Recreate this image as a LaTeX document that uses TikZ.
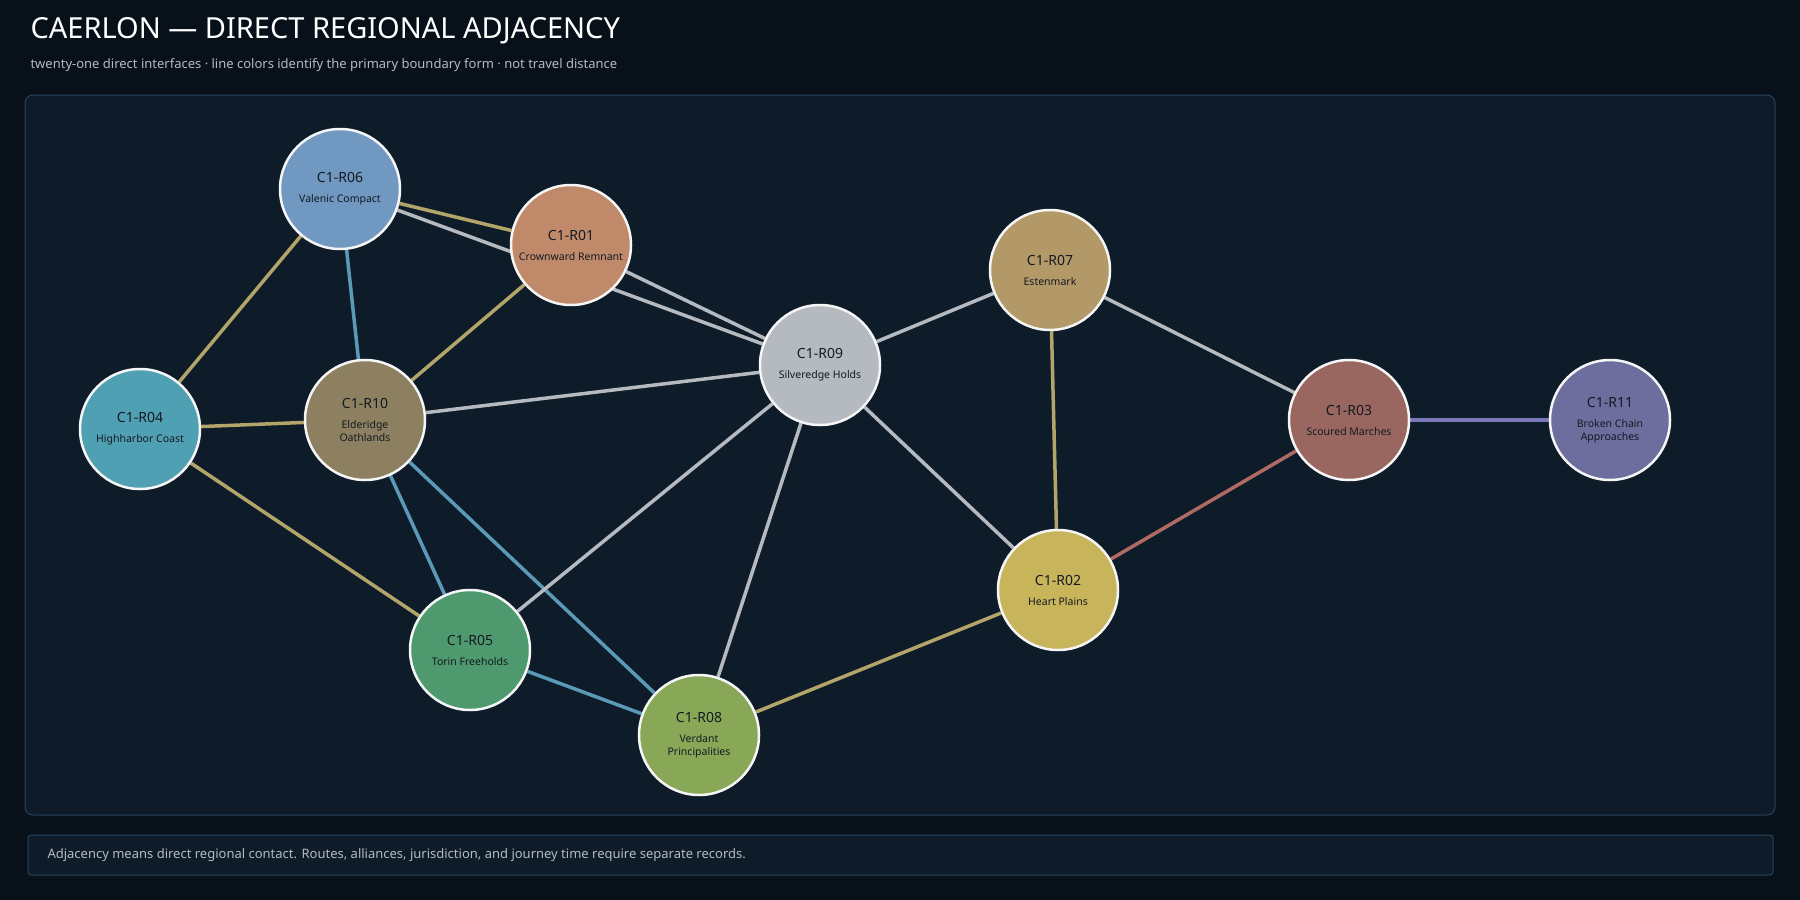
\documentclass[tikz,border=0pt]{standalone}
\usepackage{fontspec}
\setmainfont{Noto Sans}
\usetikzlibrary{backgrounds}
\definecolor{bg}{HTML}{08111A}
\definecolor{panel}{HTML}{0E1C29}
\definecolor{pborder}{HTML}{27425A}
\definecolor{egold}{HTML}{B3A46A}
\definecolor{esil}{HTML}{B4BAC0}
\definecolor{eblue}{HTML}{5A9AB8}
\definecolor{ered}{HTML}{B06A64}
\definecolor{epur}{HTML}{7A78B8}
\definecolor{ink}{HTML}{141A22}
\definecolor{c06}{RGB}{112,152,192}
\definecolor{c01}{RGB}{192,138,106}
\definecolor{c07}{RGB}{179,152,104}
\definecolor{c09}{RGB}{180,186,192}
\definecolor{c04}{RGB}{80,160,180}
\definecolor{c10}{RGB}{140,128,96}
\definecolor{c03}{RGB}{154,102,96}
\definecolor{c11}{RGB}{110,110,158}
\definecolor{c02}{RGB}{200,180,90}
\definecolor{c05}{RGB}{78,154,110}
\definecolor{c08}{RGB}{136,168,88}
\newcommand\hd[1]{\textbf{\fontsize{14}{16}\selectfont #1}\\[7pt]}
\begin{document}
\begin{tikzpicture}[x=1pt,y=-1pt,
  reg/.style={circle,draw=white!92!gray,line width=2.5pt,minimum size=120pt,inner sep=0pt,align=center,text=ink,font=\bfseries\fontsize{10.5}{13}\selectfont},
  e/.style={line width=3.5pt},
  gold/.style={e,draw=egold},sil/.style={e,draw=esil},blu/.style={e,draw=eblue}]
\useasboundingbox (0,0) rectangle (1800,900);
\node[anchor=west,text=white,font=\bfseries\fontsize{29}{32}\selectfont] (title) at (27,31) {CAERLON — DIRECT REGIONAL ADJACENCY};
\node[anchor=west,text=esil,font=\fontsize{13}{15}\selectfont] (sub) at (27,65) {twenty-one direct interfaces · line colors identify the primary boundary form · not travel distance};
\node[anchor=west,text=esil,font=\fontsize{13}{15}\selectfont] (foot) at (44,855) {Adjacency means direct regional contact. Routes, alliances, jurisdiction, and journey time require separate records.};
\node[reg,fill=c06] (r06) at (340,189) {\hd{C1-R06}Valenic Compact};
\node[reg,fill=c01] (r01) at (571,245) {\hd{C1-R01}Crownward Remnant};
\node[reg,fill=c07] (r07) at (1050,270) {\hd{C1-R07}Estenmark};
\node[reg,fill=c09] (r09) at (820,365) {\hd{C1-R09}Silveredge Holds};
\node[reg,fill=c04] (r04) at (140,429) {\hd{C1-R04}Highharbor Coast};
\node[reg,fill=c10] (r10) at (365,420) {\hd{C1-R10}Elderidge\\Oathlands};
\node[reg,fill=c03] (r03) at (1349,420) {\hd{C1-R03}Scoured Marches};
\node[reg,fill=c11] (r11) at (1610,420) {\hd{C1-R11}Broken Chain\\Approaches};
\node[reg,fill=c02] (r02) at (1058,590) {\hd{C1-R02}Heart Plains};
\node[reg,fill=c05] (r05) at (470,650) {\hd{C1-R05}Torin Freeholds};
\node[reg,fill=c08] (r08) at (699,735) {\hd{C1-R08}Verdant\\Principalities};
\begin{scope}[on background layer]
\fill[bg] (0,0) rectangle (1800,900);
\draw[pborder,fill=panel,rounded corners=8pt,line width=1pt] (25,95) rectangle (1775,815);
\draw[pborder,fill=panel,rounded corners=3pt,line width=1pt] (28,835) rectangle (1773,875);
\draw[gold] (r06) -- (r01);
\draw[sil] (r06) -- (r09);
\draw[sil] (r01) -- (r09);
\draw[blu] (r06) -- (r10);
\draw[gold] (r06) -- (r04);
\draw[gold] (r01) -- (r10);
\draw[gold] (r04) -- (r10);
\draw[gold] (r04) -- (r05);
\draw[sil] (r10) -- (r09);
\draw[blu] (r10) -- (r05);
\draw[blu] (r10) -- (r08);
\draw[sil] (r05) -- (r09);
\draw[blu] (r05) -- (r08);
\draw[sil] (r08) -- (r09);
\draw[gold] (r08) -- (r02);
\draw[sil] (r09) -- (r07);
\draw[sil] (r09) -- (r02);
\draw[gold] (r07) -- (r02);
\draw[sil] (r07) -- (r03);
\draw[e,draw=ered] (r03) -- (r02);
\draw[e,draw=epur] (r03) -- (r11);
\end{scope}
\end{tikzpicture}
\end{document}
